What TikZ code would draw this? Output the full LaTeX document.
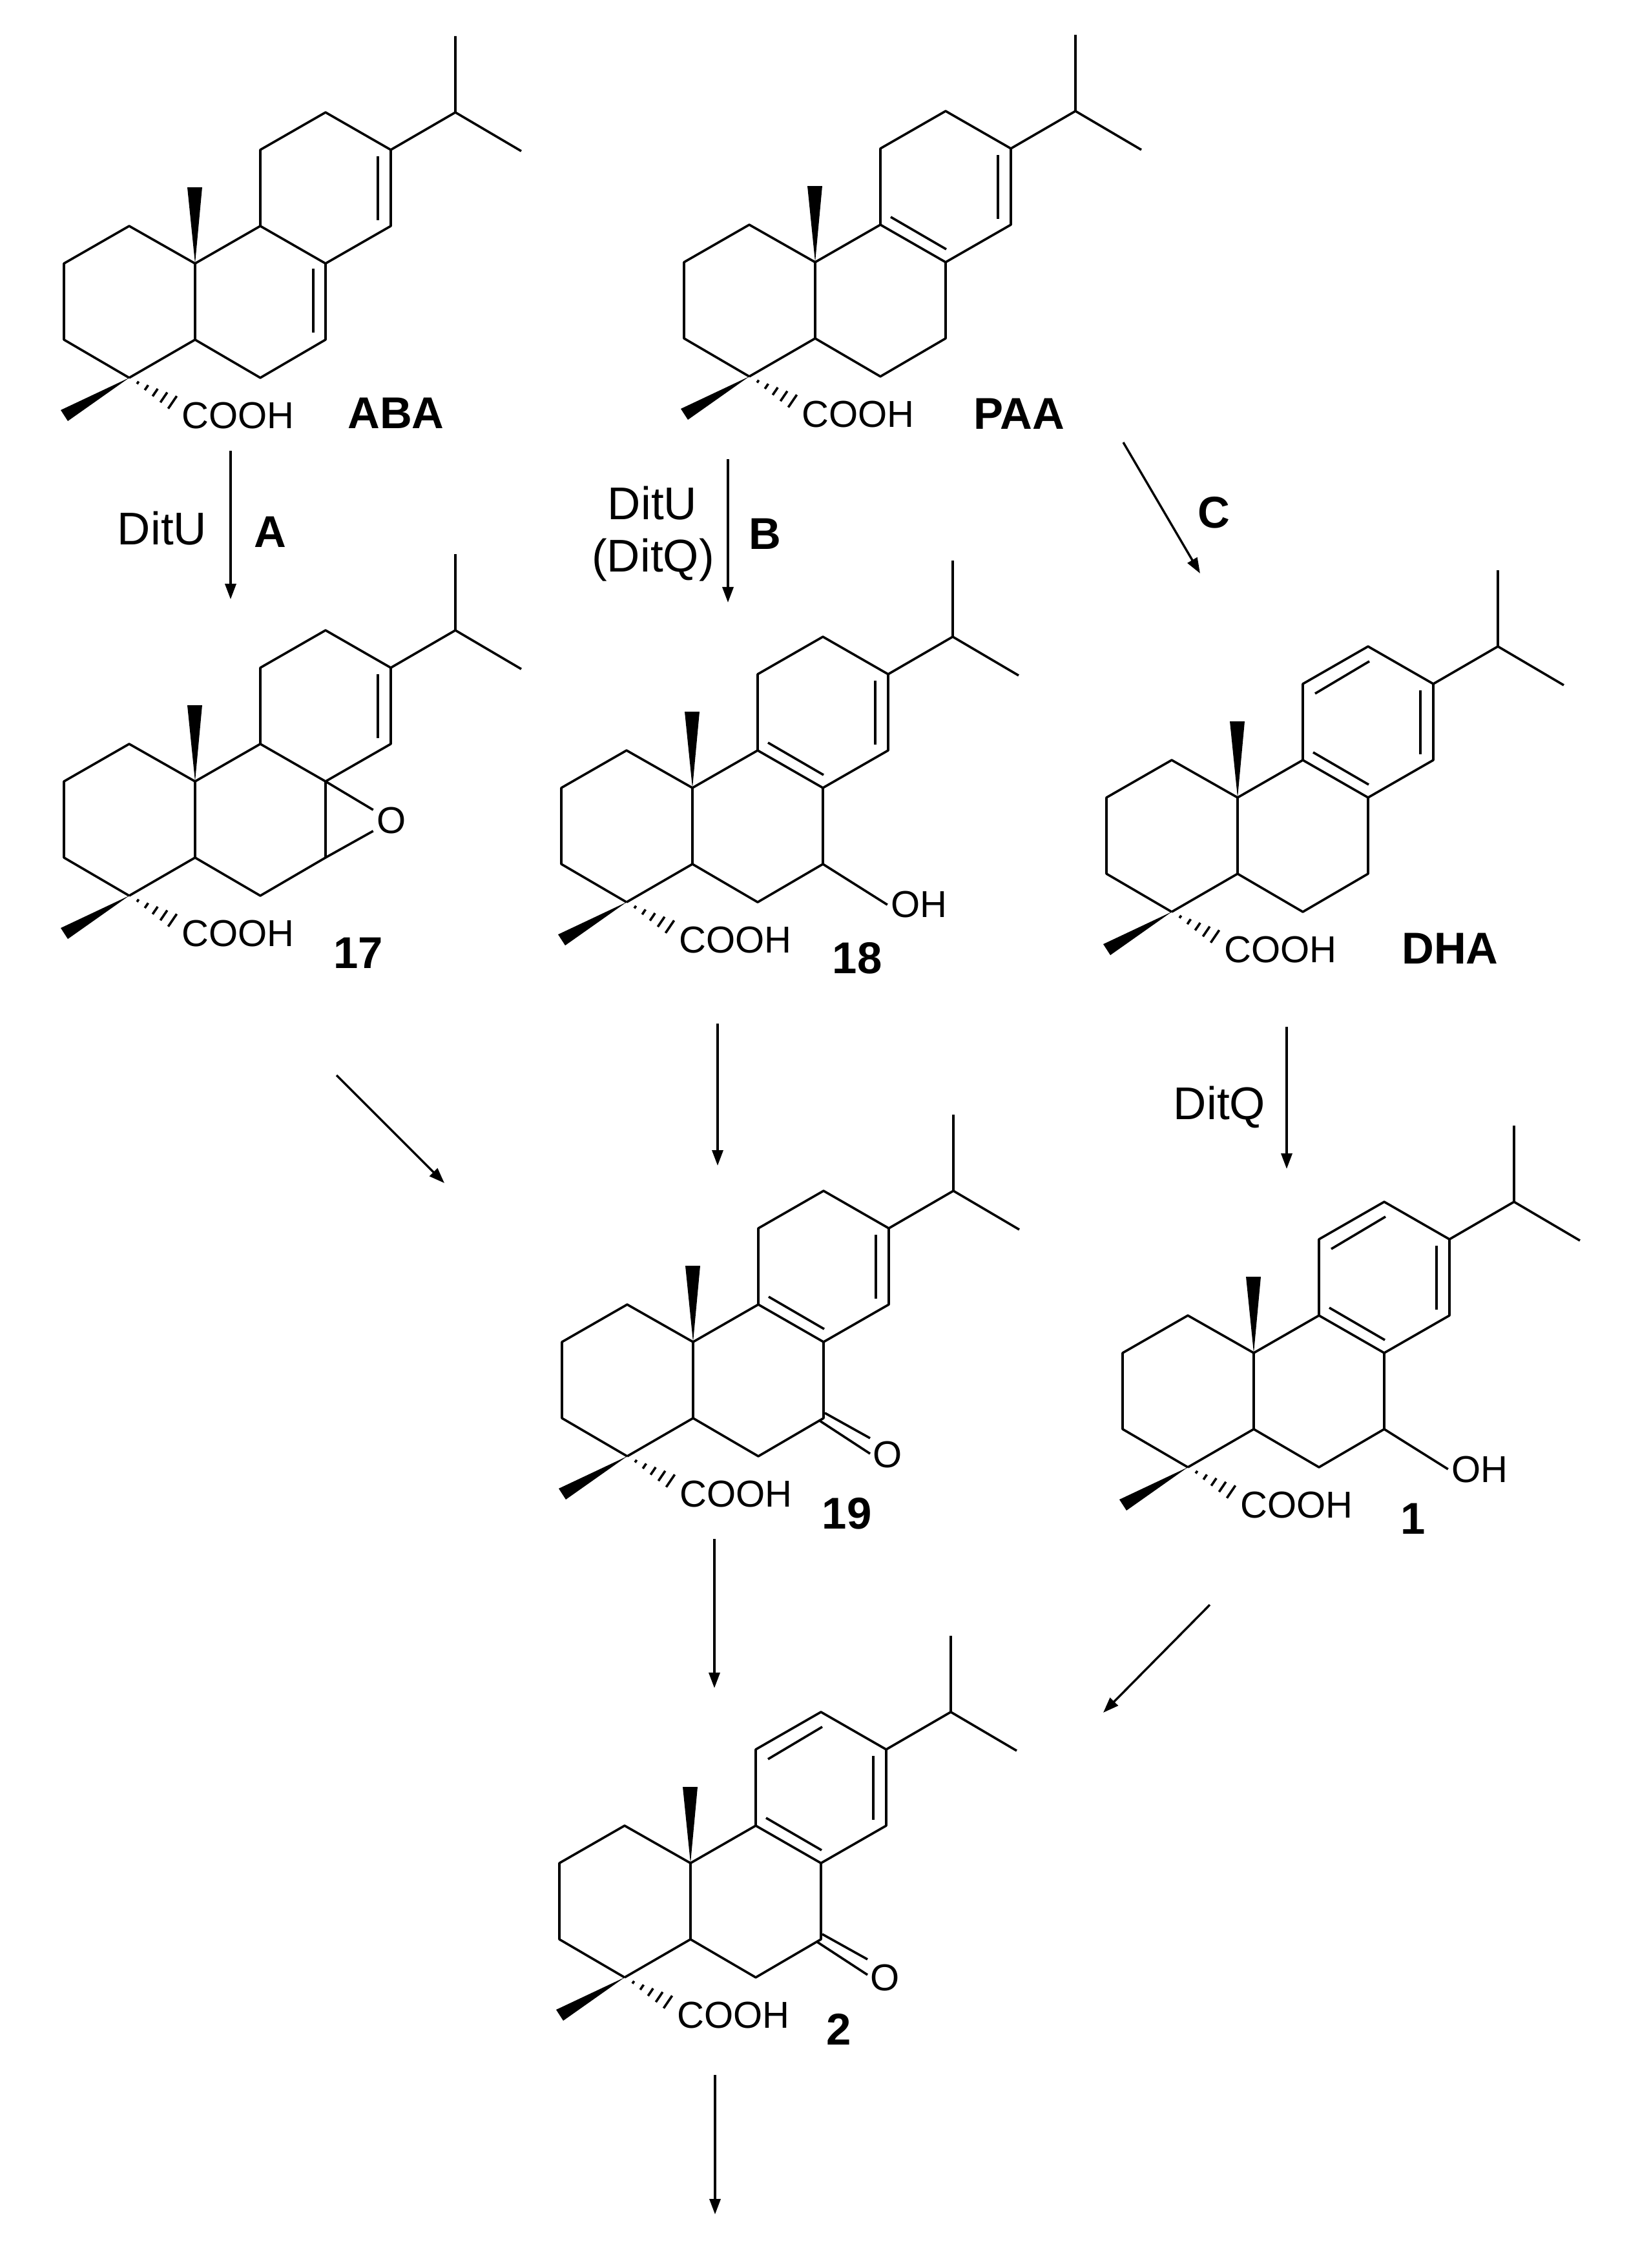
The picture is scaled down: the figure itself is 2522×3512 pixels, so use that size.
\documentclass[tikz,border=0pt]{standalone}
\usepackage{fontspec}
\setmainfont{Liberation Sans}
\usetikzlibrary{arrows.meta}

% atoms of the ring system, numbered from the quaternary carbon at (#2,#3)
\newcommand{\diterpene}[3]{
  \begin{scope}[shift={(#2,#3)}]
    \coordinate (#1_c4) at (0,0);
    \coordinate (#1_c3) at (-101,-59);
    \coordinate (#1_c2) at (-101,-177);
    \coordinate (#1_c1) at (0,-235);
    \coordinate (#1_c10) at (102,-177);
    \coordinate (#1_c5) at (102,-59);
    \coordinate (#1_c6) at (203,0);
    \coordinate (#1_c7) at (304,-59);
    \coordinate (#1_c8) at (304,-177);
    \coordinate (#1_c9) at (203,-235);
    \coordinate (#1_c11) at (203,-353);
    \coordinate (#1_c12) at (304,-411);
    \coordinate (#1_c13) at (405,-353);
    \coordinate (#1_c14) at (405,-235);
    \coordinate (#1_ch) at (505,-411);
    \coordinate (#1_me1) at (505,-529);
    \coordinate (#1_me2) at (607,-351);
    % inner lines of the double bonds
    \coordinate (#1_d1a) at (385,-343);
    \coordinate (#1_d1b) at (385,-244);
    \coordinate (#1_d2a) at (219,-247);
    \coordinate (#1_d2b) at (305,-197);
    \coordinate (#1_d3a) at (222,-338);
    \coordinate (#1_d3b) at (306,-388);
    \coordinate (#1_d4a) at (285,-169);
    \coordinate (#1_d4b) at (285,-70);
    \coordinate (#1_co1a) at (298,-55);
    \coordinate (#1_co1b) at (376,-4);
    \coordinate (#1_co2a) at (306,-67);
    \coordinate (#1_co2b) at (376,-28);
    \draw[bond, line join=round] (#1_c4) -- (#1_c3) -- (#1_c2) -- (#1_c1) -- (#1_c10) -- (#1_c5) -- (#1_c4);
    \draw[bond, line join=round] (#1_c10) -- (#1_c9) -- (#1_c8) -- (#1_c7) -- (#1_c6) -- (#1_c5);
    \draw[bond, line join=round] (#1_c9) -- (#1_c11) -- (#1_c12) -- (#1_c13) -- (#1_c14) -- (#1_c8);
    \draw[bond, line join=round] (#1_c13) -- (#1_ch) -- (#1_me1);
    \draw[bond] (#1_ch) -- (#1_me2);
    \draw[bond] (#1_d1a) -- (#1_d1b);
    % methyl wedges
    \fill (#1_c10) -- (90,-295) -- (113,-295) -- cycle;
    \fill (#1_c4) -- (-106,50) -- (-95,67) -- cycle;
    % hashed bond to the acid
    \foreach \f in {0.2,0.4,0.6,0.8,1}
      \draw[bond] ({(67-6.6)*\f},{(38+9.7)*\f}) -- ({(67+6.6)*\f},{(38-9.7)*\f});
    \node[atom, anchor=base west, inner sep=0] (#1_cooh) at (81,78) {COOH};
  \end{scope}
}

\begin{document}
\begin{tikzpicture}[
    x=0.01cm, y=-0.01cm,
    bond/.style={line width=0.036cm},
    arrow/.style={line width=0.034cm, -{Triangle[length=0.24cm, width=0.17cm]}},
    atom/.style={font=\fontsize{16.5}{18}\selectfont, inner sep=0.05cm},
    enzyme/.style={font=\fontsize{20.2}{22}\selectfont, inner sep=0, anchor=base},
    compound/.style={font=\bfseries\fontsize{19.6}{21}\selectfont, inner sep=0, anchor=base}
]
\useasboundingbox (0,0) rectangle (2522,3512);

% ABA
\diterpene{aba}{200}{585}
\draw[bond] (aba_d4a) -- (aba_d4b);
\node[compound] (aba_name) at (613,663) {ABA};

% PAA
\diterpene{paa}{1160}{583}
\draw[bond] (paa_d2a) -- (paa_d2b);
\node[compound] (paa_name) at (1578,664) {PAA};

% 17
\diterpene{m17}{200}{1387}
\node[atom] (m17_o) at (606,1271) {O};
\draw[bond] (m17_c8) -- (m17_o);
\draw[bond] (m17_c7) -- (m17_o);
\node[compound] (m17_name) at (555,1499) {17};

% 18
\diterpene{m18}{970}{1397}
\draw[bond] (m18_d2a) -- (m18_d2b);
\node[atom] (m18_oh) at (1423,1401) {OH};
\draw[bond] (m18_c7) -- (m18_oh.west);
\node[compound] (m18_name) at (1327,1507) {18};

% DHA
\diterpene{dha}{1814}{1412}
\draw[bond] (dha_d2a) -- (dha_d2b);
\draw[bond] (dha_d3a) -- (dha_d3b);
\node[compound] (dha_name) at (2245,1492) {DHA};

% 19
\diterpene{m19}{971}{2255}
\draw[bond] (m19_d2a) -- (m19_d2b);
\draw[bond] (m19_co1a) -- (m19_co1b);
\draw[bond] (m19_co2a) -- (m19_co2b);
\node[atom] (m19_o) at (1374,2252) {O};
\node[compound] (m19_name) at (1311,2367) {19};

% 1
\diterpene{m1}{1839}{2272}
\draw[bond] (m1_d2a) -- (m1_d2b);
\draw[bond] (m1_d3a) -- (m1_d3b);
\node[atom] (m1_oh) at (2291,2275) {OH};
\draw[bond] (m1_c7) -- (m1_oh.west);
\node[compound] (m1_name) at (2188,2375) {1};

% 2
\diterpene{m2}{967}{3062}
\draw[bond] (m2_d2a) -- (m2_d2b);
\draw[bond] (m2_d3a) -- (m2_d3b);
\draw[bond] (m2_co1a) -- (m2_co1b);
\draw[bond] (m2_co2a) -- (m2_co2b);
\node[atom] (m2_o) at (1370,3062) {O};
\node[compound] (m2_name) at (1299,3166) {2};

% Arrows
\coordinate (aba_out) at (357,698);
\coordinate (m17_in) at (357,928);
\draw[arrow] (aba_out) -- (m17_in);
\node[enzyme] (ditu_a) at (251,843) {DitU};
\node[compound] (step_a) at (418,847) {A};

\coordinate (paa_out) at (1127,711);
\coordinate (m18_in) at (1127,933);
\draw[arrow] (paa_out) -- (m18_in);
\node[enzyme] (ditu_b) at (1010,804) {DitU};
\node[enzyme] (ditq_b) at (1011,885) {(DitQ)};
\node[compound] (step_b) at (1184,850) {B};

\coordinate (paa_side) at (1739,685);
\coordinate (dha_in) at (1858,888);
\draw[arrow] (paa_side) -- (dha_in);
\node[compound] (step_c) at (1879,817) {C};

\coordinate (m17_out) at (521,1665);
\coordinate (m19_in1) at (688,1832);
\draw[arrow] (m17_out) -- (m19_in1);

\coordinate (m18_out) at (1111,1585);
\coordinate (m19_in2) at (1111,1805);
\draw[arrow] (m18_out) -- (m19_in2);

\coordinate (dha_out) at (1992,1590);
\coordinate (m1_in) at (1992,1810);
\draw[arrow] (dha_out) -- (m1_in);
\node[enzyme] (ditq_d) at (1888,1733) {DitQ};

\coordinate (m19_out) at (1106,2383);
\coordinate (m2_in1) at (1106,2614);
\draw[arrow] (m19_out) -- (m2_in1);

\coordinate (m1_out) at (1873,2485);
\coordinate (m2_in2) at (1708,2652);
\draw[arrow] (m1_out) -- (m2_in2);

\coordinate (m2_out) at (1107,3213);
\coordinate (m2_next) at (1107,3429);
\draw[arrow] (m2_out) -- (m2_next);

\end{tikzpicture}
\end{document}
